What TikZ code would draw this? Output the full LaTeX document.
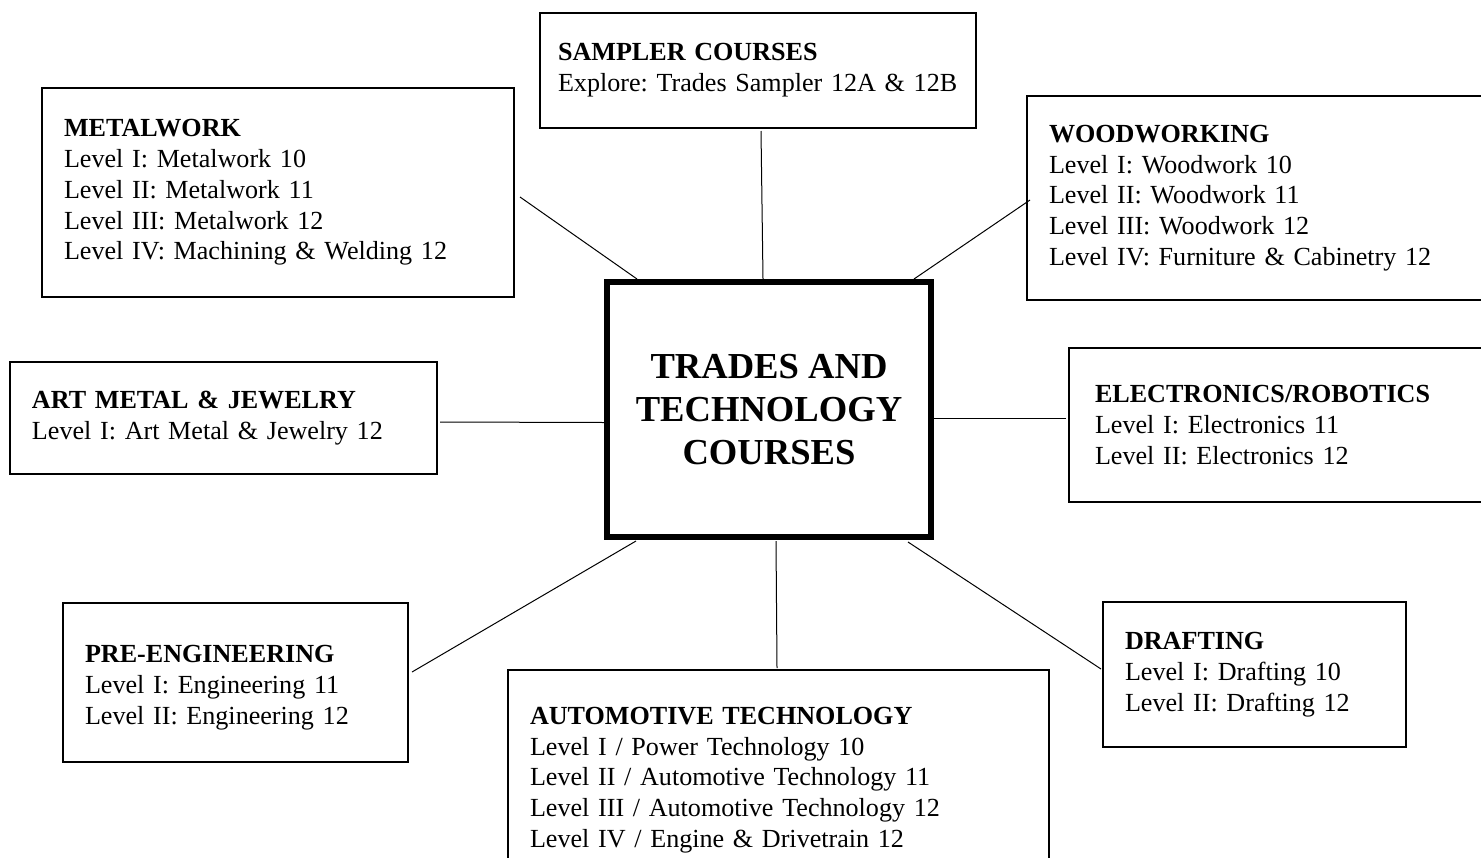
\documentclass[tikz,border=0pt]{standalone}
\usepackage{fontspec}
\setmainfont{Liberation Serif}
\usepackage{tikz}
\frenchspacing

\tikzset{
  course/.style={draw, line width=1pt, anchor=north west, align=left,
    inner xsep=11pt, inner ysep=0pt, outer sep=0pt,
    font=\fontsize{13.05}{15.4}\selectfont},
  hub/.style={draw, line width=2.6pt, anchor=north west, align=center,
    inner sep=0pt, outer sep=0pt,
    font=\fontsize{18.3}{21.5}\selectfont\bfseries},
  link/.style={line width=0.5pt}
}

\begin{document}
\begin{tikzpicture}[x=0.5pt, y=-0.5pt]
            \useasboundingbox (0,0) rectangle (1481,857);
            \clip (0,0) rectangle (1481,857);

            \node[hub, minimum width=162pt, minimum height=127.5pt] (trades) at (607,282)
              {TRADES AND\\TECHNOLOGY\\COURSES};

            \node[course, text width=200pt, inner xsep=9pt, minimum height=57.5pt] (sampler) at (540,13)
              {\textbf{SAMPLER COURSES}\\Explore: Trades Sampler 12A \& 12B};
            \node[course, text width=214pt, minimum height=104.5pt] (metal) at (42,88)
              {\textbf{METALWORK}\\Level I: Metalwork 10\\Level II: Metalwork 11\\Level III: Metalwork 12\\Level IV: Machining \& Welding 12};
            \node[course, text width=218pt, minimum height=102pt] (wood) at (1027,96)
              {\textbf{WOODWORKING}\\Level I: Woodwork 10\\Level II: Woodwork 11\\Level III: Woodwork 12\\Level IV: Furniture \& Cabinetry 12};
            \node[course, text width=191.5pt, minimum height=56pt] (art) at (10,362)
              {\textbf{ART METAL \& JEWELRY}\\Level I: Art Metal \& Jewelry 12};
            \node[course, text width=196pt, minimum height=77pt, inner xsep=13pt] (elec) at (1069,348)
              {\textbf{ELECTRONICS/ROBOTICS}\\Level I: Electronics 11\\Level II: Electronics 12};
            \node[course, text width=150.5pt, minimum height=79.5pt] (pre) at (63,603)
              {\rule{0pt}{14pt}\textbf{PRE-ENGINEERING}\\Level I: Engineering 11\\Level II: Engineering 12};
            \node[course, text width=248.5pt, minimum height=110pt] (auto) at (508,670)
              {\textbf{AUTOMOTIVE TECHNOLOGY}\\Level I / Power Technology 10\\Level II / Automotive Technology 11\\Level III / Automotive Technology 12\\Level IV / Engine \& Drivetrain 12};
            \node[course, line width=0.75pt, text width=129.5pt, minimum height=72.5pt] (draft) at (1103,602)
              {\textbf{DRAFTING}\\Level I: Drafting 10\\Level II: Drafting 12};

            % spokes, each stops a little short of the boxes
            \draw[link] ([shift={(3,3)}]sampler.south) -- ([shift={(-6,-3)}]trades.north);
            \draw[link] ([shift={(6,4.5)}]metal.east) -- ([shift={(30,-3)}]trades.north west);
            \draw[link] ([shift={(3,2)}]wood.west) -- ([shift={(-17,-3)}]trades.north east);
            \draw[link] ([shift={(3,4)}]art.east) -- ([shift={(-2,13)}]trades.west);
            \draw[link] ([shift={(2,8.5)}]trades.east) -- ([shift={(-3,-7)}]elec.west);
            \draw[link] ([shift={(4,-10.5)}]pre.east) -- ([shift={(29,4)}]trades.south west);
            \draw[link] ([shift={(7,4)}]trades.south) -- ([shift={(-1.5,-2)}]auto.north);
            \draw[link] ([shift={(-23,5)}]trades.south east) -- ([shift={(-2,-5.5)}]draft.west);
        \end{tikzpicture}
\end{document}
